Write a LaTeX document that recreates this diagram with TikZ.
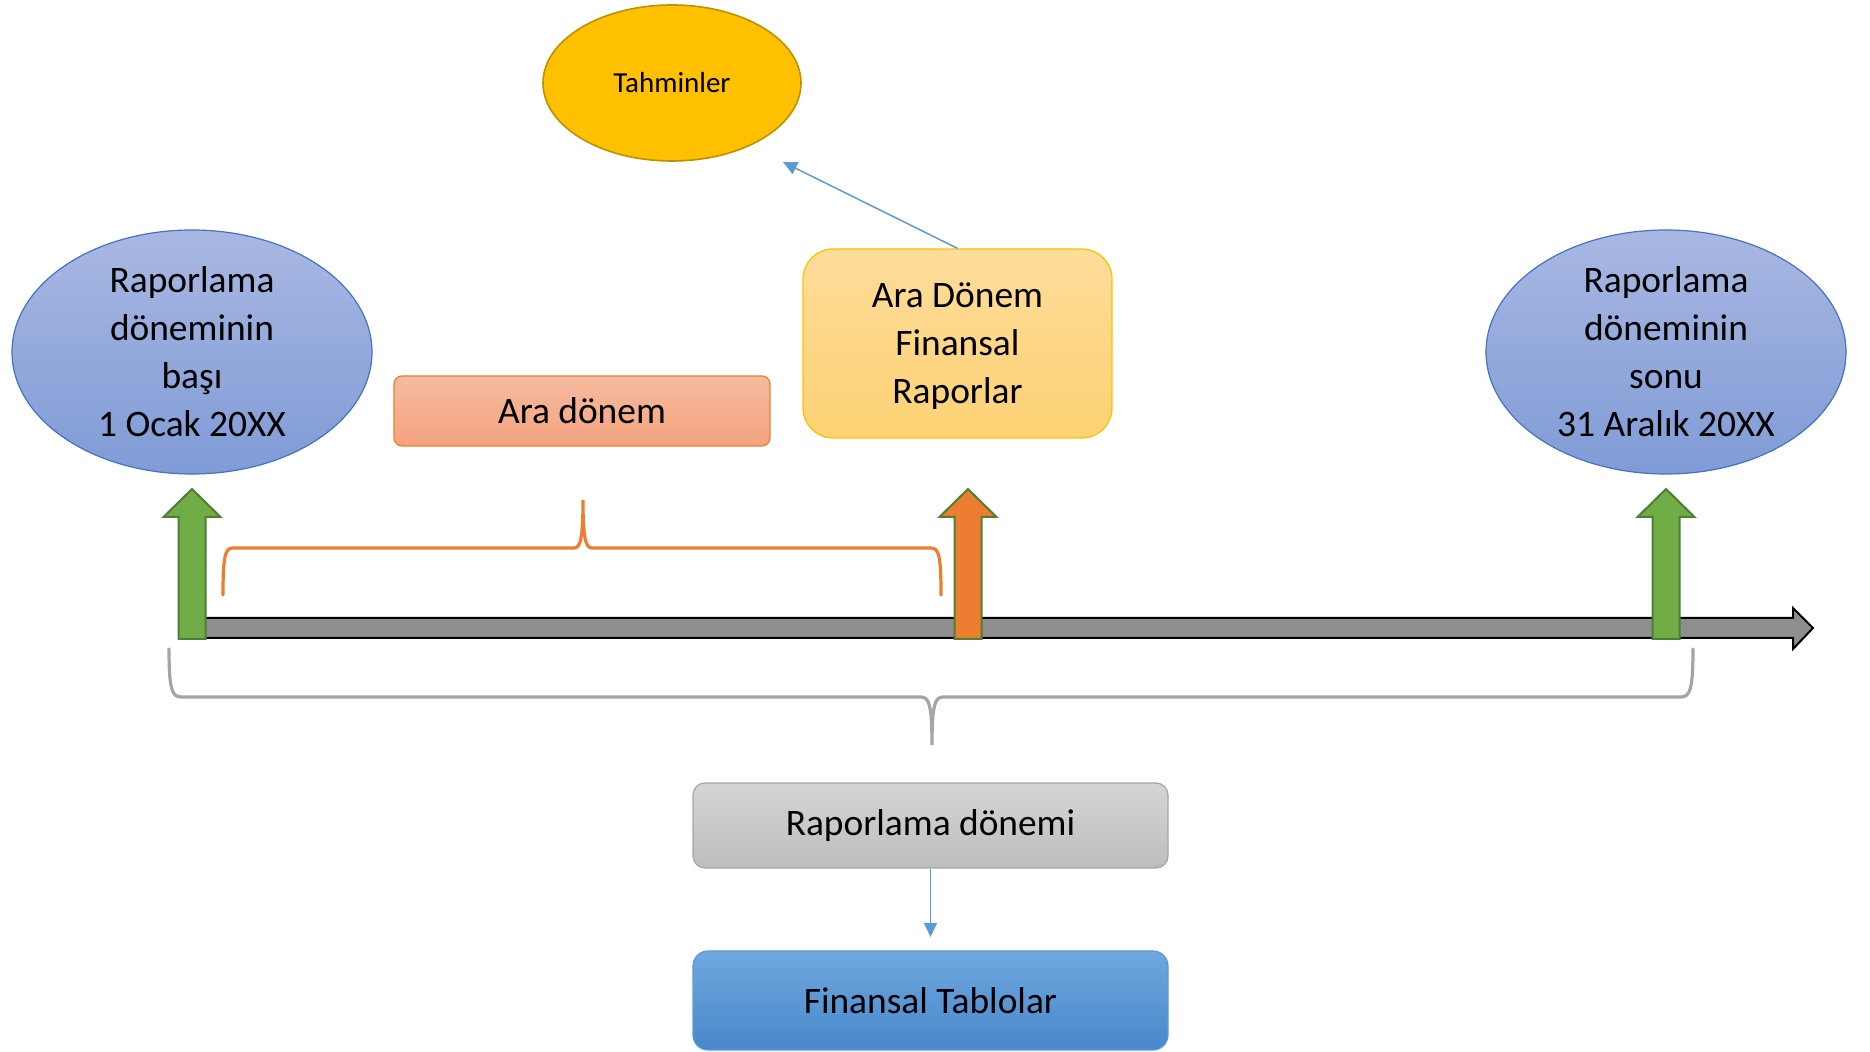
\documentclass[tikz,border=0pt]{standalone}
\usepackage{fontspec}
\setmainfont{Carlito}
\usepackage{tikz}
\usetikzlibrary{shapes.geometric,arrows.meta}

\definecolor{ellTop}{HTML}{A9B8E2}
\definecolor{ellBot}{HTML}{7F9BD6}
\definecolor{ellLine}{HTML}{4472C4}
\definecolor{araTop}{HTML}{F6BBA0}
\definecolor{araBot}{HTML}{F4A37E}
\definecolor{araLine}{HTML}{ED7D31}
\definecolor{repTop}{HTML}{FEDC9A}
\definecolor{repBot}{HTML}{FDD274}
\definecolor{repLine}{HTML}{FFC000}
\definecolor{greyTop}{HTML}{D5D5D5}
\definecolor{greyBot}{HTML}{BDBDBD}
\definecolor{greyLine}{HTML}{A5A5A5}
\definecolor{tabTop}{HTML}{70A8DE}
\definecolor{tabBot}{HTML}{4787CB}
\definecolor{tabLine}{HTML}{5B9BD5}
\definecolor{tahFill}{HTML}{FFC000}
\definecolor{tahLine}{HTML}{BF9000}
\definecolor{upGreen}{HTML}{70AD47}
\definecolor{upOrange}{HTML}{ED7D31}
\definecolor{upLine}{HTML}{507E32}
\definecolor{barGray}{HTML}{8E8E8E}
\definecolor{linkBlue}{HTML}{5B9BD5}

\begin{document}
\begin{tikzpicture}[x=0.5pt,y=0.5pt,yscale=-1,
  lbl/.style={font=\fontsize{18.7}{24}\selectfont,align=center,inner sep=0pt},
  blob/.style={lbl,ellipse,draw=ellLine,line width=0.6pt,top color=ellTop,bottom color=ellBot,minimum width=180pt,minimum height=122pt},
  link/.style={draw=linkBlue,line width=0.75pt,-{Triangle[length=7pt,width=6.5pt]}},
  brace/.style={line width=1.6pt,line cap=round}]
  \useasboundingbox (0,0) rectangle (1870,1052);

  %Shape: Right Arrow (time line)
  \draw [fill=barGray,line width=1pt] (180,618) -- (1793,618) -- (1793,608) -- (1813,628) -- (1793,649) -- (1793,638) -- (180,638) -- cycle ;
  %Shape: Up Arrows
  \foreach \ax/\col in {192/upGreen,968/upOrange,1666/upGreen}
    \draw [draw=upLine,fill=\col,line width=1pt] (\ax-13.5,639) -- (\ax-13.5,517) -- (\ax-28.5,517) -- (\ax,489) -- (\ax+28.5,517) -- (\ax+13.5,517) -- (\ax+13.5,639) -- cycle ;

  %Curve Lines: orange brace
  \draw [brace,draw=araLine] (223,595) .. controls (223,556) and (225,548) .. (233,548) -- (574,548) .. controls (580,548) and (583,540) .. (583,500) .. controls (583,540) and (586,548) .. (592,548) -- (931,548) .. controls (939,548) and (941,556) .. (941,595) ;
  %Curve Lines: grey brace
  \draw [brace,draw=greyLine] (169,649) .. controls (169,689) and (172,697) .. (181,697) -- (921,697) .. controls (929,697) and (932,705) .. (932,745) .. controls (932,705) and (935,697) .. (943,697) -- (1681,697) .. controls (1690,697) and (1693,689) .. (1693,649) ;

  %Shape: Ellipses
  \node [blob] (bas) at (192,352) {Raporlama\\döneminin\\başı\\1 Ocak 20XX};
  \node [blob] (son) at (1666,352) {Raporlama\\döneminin\\sonu\\31 Aralık 20XX};
  \node [lbl,ellipse,draw=tahLine,fill=tahFill,line width=0.8pt,minimum width=129pt,minimum height=78pt,font=\fontsize{14.5}{18}\selectfont] (tahmin) at (672,83) {Tahminler};

  %Shape: Rounded Rectangles
  \node [lbl,draw=araLine,line width=0.6pt,top color=araTop,bottom color=araBot,rounded corners=4pt,minimum width=188pt,minimum height=35pt] (ara) at (582,411) {Ara dönem};
  \node [lbl,draw=repLine,line width=0.6pt,top color=repTop,bottom color=repBot,rounded corners=15pt,minimum width=154.5pt,minimum height=94.5pt,text depth=0pt] (rapor) at (957.5,343.5) {Ara Dönem\\Finansal\\Raporlar};
  \node [lbl,draw=greyLine,line width=0.6pt,top color=greyTop,bottom color=greyBot,rounded corners=6pt,minimum width=237.5pt,minimum height=42.5pt] (donem) at (930.5,825.5) {Raporlama dönemi};
  \node [lbl,draw=tabLine,line width=0.6pt,top color=tabTop,bottom color=tabBot,rounded corners=7.5pt,minimum width=237.5pt,minimum height=49.5pt] (tablo) at (930.5,1000.5) {Finansal Tablolar};

  %Straight Lines: connectors
  \coordinate (tahminUc) at (783,162);
  \coordinate (tabloUc) at (930.5,937);
  \draw [link] (rapor.north) -- (tahminUc);
  \draw [link] (donem.south) -- (tabloUc);
\end{tikzpicture}
\end{document}
